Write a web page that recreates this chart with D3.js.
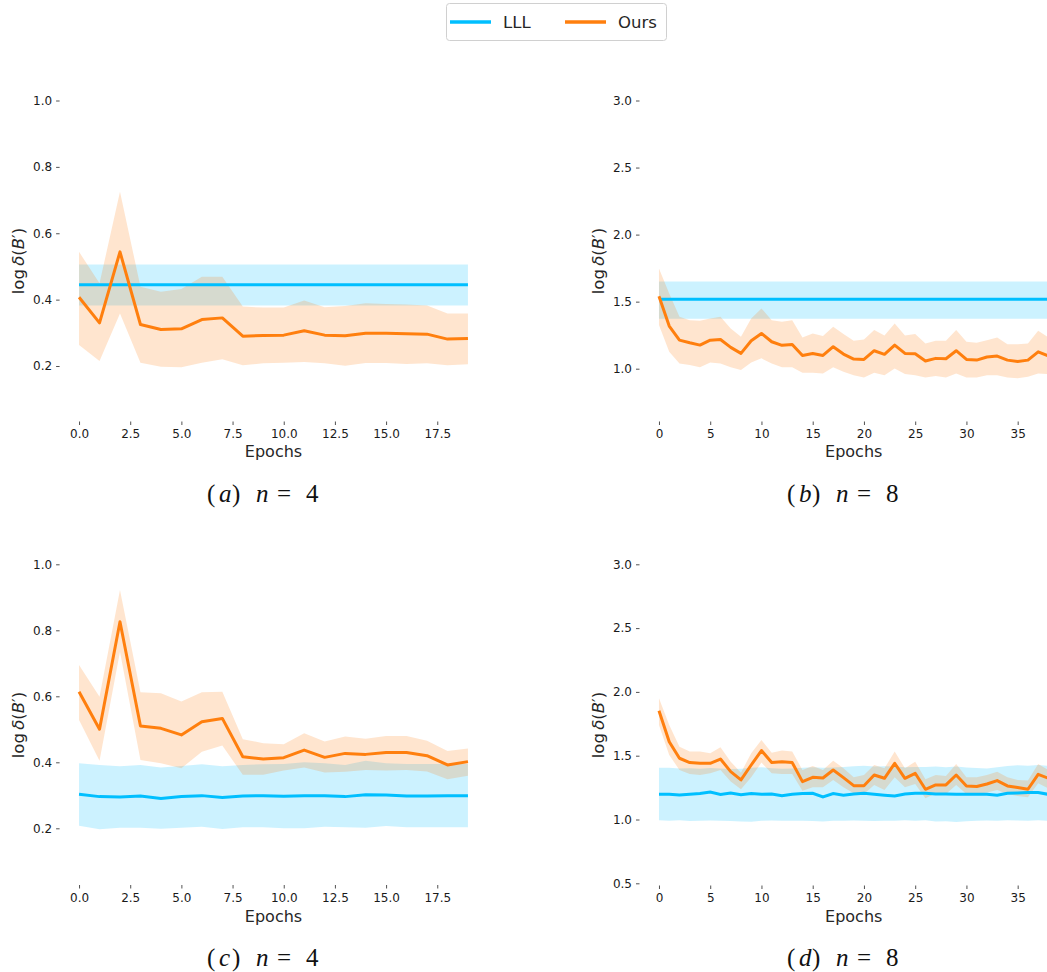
<!DOCTYPE html>
<html>
<head>
<meta charset="utf-8">
<script src="https://cdn.jsdelivr.net/npm/d3@7"></script>
<style>
  body { margin: 0; background: #fff; }
  svg { display: block; }
</style>
</head>
<body>
<svg id="fig" width="1047" height="972"></svg>
<script>
// ---- data (index = epoch) ----
const lllMeanA = [0.445,0.445,0.445,0.445,0.445,0.445,0.445,0.445,0.445,0.445,0.445,0.445,0.445,0.445,0.445,0.445,0.445,0.445,0.445,0.445];
const lllLowA  = [0.382,0.382,0.382,0.382,0.382,0.382,0.382,0.382,0.382,0.382,0.382,0.382,0.382,0.382,0.382,0.382,0.382,0.382,0.382,0.382];
const lllHighA = [0.506,0.506,0.506,0.506,0.506,0.506,0.506,0.506,0.506,0.506,0.506,0.506,0.506,0.506,0.506,0.506,0.506,0.506,0.506,0.506];
const oursMeanA = [0.407,0.330,0.544,0.325,0.310,0.312,0.340,0.345,0.290,0.292,0.293,0.306,0.293,0.291,0.299,0.299,0.297,0.296,0.281,0.283];
const oursLowA  = [0.263,0.215,0.358,0.210,0.198,0.196,0.210,0.220,0.202,0.208,0.210,0.212,0.208,0.201,0.209,0.209,0.206,0.208,0.202,0.205];
const oursHighA = [0.544,0.449,0.725,0.439,0.424,0.432,0.469,0.469,0.379,0.376,0.376,0.397,0.377,0.381,0.389,0.387,0.385,0.382,0.358,0.358];

const lllMeanB = [1.517,1.517,1.517,1.517,1.517,1.517,1.517,1.517,1.517,1.517,1.517,1.517,1.517,1.517,1.517,1.517,1.517,1.517,1.517,1.517,1.517,1.517,1.517,1.517,1.517,1.517,1.517,1.517,1.517,1.517,1.517,1.517,1.517,1.517,1.517,1.517,1.517,1.517,1.517];
const lllLowB  = [1.373,1.373,1.373,1.373,1.373,1.373,1.373,1.373,1.373,1.373,1.373,1.373,1.373,1.373,1.373,1.373,1.373,1.373,1.373,1.373,1.373,1.373,1.373,1.373,1.373,1.373,1.373,1.373,1.373,1.373,1.373,1.373,1.373,1.373,1.373,1.373,1.373,1.373,1.373];
const lllHighB = [1.651,1.651,1.651,1.651,1.651,1.651,1.651,1.651,1.651,1.651,1.651,1.651,1.651,1.651,1.651,1.651,1.651,1.651,1.651,1.651,1.651,1.651,1.651,1.651,1.651,1.651,1.651,1.651,1.651,1.651,1.651,1.651,1.651,1.651,1.651,1.651,1.651,1.651,1.651];
const oursMeanB = [1.541,1.318,1.213,1.193,1.176,1.213,1.218,1.159,1.114,1.208,1.263,1.201,1.174,1.181,1.099,1.114,1.099,1.164,1.109,1.072,1.069,1.134,1.107,1.176,1.114,1.111,1.057,1.077,1.074,1.134,1.069,1.064,1.087,1.094,1.064,1.054,1.064,1.126,1.094];
const oursLowB  = [1.325,1.126,1.039,1.027,1.010,1.047,1.039,1.010,0.990,1.047,1.077,1.039,1.010,1.010,0.970,0.970,0.965,1.010,0.977,0.952,0.935,0.970,0.952,1.002,0.960,0.952,0.935,0.945,0.935,0.965,0.935,0.935,0.952,0.952,0.935,0.928,0.940,0.965,0.960];
const oursHighB = [1.747,1.561,1.387,1.362,1.357,1.375,1.387,1.300,1.238,1.375,1.449,1.362,1.350,1.362,1.233,1.263,1.243,1.313,1.258,1.208,1.218,1.288,1.248,1.337,1.248,1.258,1.188,1.208,1.208,1.288,1.201,1.193,1.213,1.233,1.183,1.183,1.188,1.283,1.233];

const lllMeanC = [0.303,0.296,0.295,0.298,0.290,0.296,0.299,0.293,0.298,0.299,0.297,0.299,0.299,0.296,0.302,0.301,0.298,0.298,0.299,0.299];
const lllLowC  = [0.208,0.197,0.202,0.202,0.199,0.202,0.205,0.198,0.203,0.203,0.200,0.200,0.205,0.203,0.202,0.207,0.203,0.203,0.203,0.203];
const lllHighC = [0.397,0.392,0.388,0.392,0.384,0.389,0.394,0.388,0.392,0.394,0.395,0.400,0.397,0.392,0.405,0.397,0.395,0.395,0.395,0.395];
const oursMeanC = [0.614,0.500,0.826,0.510,0.503,0.483,0.523,0.533,0.417,0.410,0.414,0.437,0.415,0.427,0.424,0.430,0.430,0.420,0.392,0.402];
const oursLowC  = [0.528,0.405,0.735,0.407,0.397,0.382,0.432,0.451,0.362,0.362,0.375,0.384,0.369,0.371,0.377,0.375,0.377,0.372,0.349,0.359];
const oursHighC = [0.695,0.599,0.922,0.612,0.609,0.584,0.612,0.614,0.470,0.458,0.455,0.488,0.463,0.478,0.471,0.480,0.480,0.465,0.434,0.442];

const lllMeanD = [1.197,1.197,1.192,1.197,1.203,1.216,1.197,1.208,1.195,1.203,1.197,1.200,1.187,1.197,1.203,1.205,1.177,1.203,1.190,1.200,1.205,1.197,1.190,1.184,1.200,1.205,1.205,1.200,1.200,1.197,1.197,1.197,1.197,1.190,1.205,1.208,1.211,1.211,1.197];
const lllLowD  = [0.995,0.990,0.995,0.988,0.990,0.993,0.990,0.988,0.985,0.983,0.990,0.993,0.990,0.990,0.990,0.988,0.985,0.990,0.990,0.992,0.990,0.988,0.990,0.990,0.994,0.990,0.995,0.985,0.986,0.980,0.987,0.990,0.993,0.990,0.995,0.993,0.990,0.995,0.990];
const lllHighD = [1.405,1.405,1.400,1.402,1.398,1.404,1.400,1.396,1.398,1.405,1.410,1.402,1.398,1.400,1.405,1.410,1.405,1.407,1.412,1.418,1.422,1.415,1.418,1.415,1.410,1.412,1.412,1.415,1.410,1.415,1.408,1.404,1.400,1.410,1.420,1.425,1.422,1.428,1.420];
const oursMeanD = [1.853,1.610,1.480,1.446,1.440,1.440,1.474,1.375,1.310,1.427,1.540,1.446,1.453,1.446,1.297,1.331,1.325,1.388,1.328,1.265,1.265,1.349,1.323,1.440,1.323,1.362,1.237,1.271,1.271,1.349,1.263,1.258,1.278,1.305,1.263,1.250,1.237,1.354,1.323];
const oursLowD  = [1.740,1.506,1.388,1.357,1.349,1.362,1.388,1.297,1.237,1.331,1.446,1.362,1.357,1.357,1.226,1.252,1.252,1.310,1.252,1.205,1.200,1.271,1.231,1.331,1.252,1.278,1.166,1.205,1.200,1.271,1.200,1.200,1.211,1.231,1.200,1.184,1.174,1.284,1.244];
const oursHighD = [1.950,1.741,1.571,1.532,1.532,1.519,1.566,1.453,1.367,1.519,1.623,1.524,1.540,1.532,1.388,1.419,1.388,1.461,1.401,1.331,1.349,1.427,1.401,1.532,1.401,1.453,1.315,1.349,1.341,1.435,1.331,1.331,1.349,1.375,1.331,1.310,1.305,1.435,1.388];

const xTicks20 = [0, 2.5, 5, 7.5, 10, 12.5, 15, 17.5];
const xTicks39 = [0, 5, 10, 15, 20, 25, 30, 35];
const yTicksSmall = [0.2, 0.4, 0.6, 0.8, 1.0];
const yTicksB = [1.0, 1.5, 2.0, 2.5, 3.0];
const yTicksD = [0.5, 1.0, 1.5, 2.0, 2.5, 3.0];

const seriesNames = ["LLL", "Ours"];
const colors = {LLL: "#00bfff", Ours: "#ff7f0e"};

const SANS = "DejaVu Sans";
const SERIF = "Liberation Serif";
const INK = "#262626";

// ---- layout ----
const svg = d3.select("#fig");

const panels = [
  {lll: [lllMeanA, lllLowA, lllHighA], ours: [oursMeanA, oursLowA, oursHighA],
   xDom: [-0.95, 19.95], xPx: [59.6, 487.4], xTicks: xTicks20, xFmt: d3.format(".1f"),
   yDom: [0.2, 1.0], yPx: [366, 100.5], yTicks: yTicksSmall, axisY: 421.5,
   ylab: [24, 261], epochsY: 456.5, capX: 207, capY: 502, cap: ["a", "4"]},
  {lll: [lllMeanB, lllLowB, lllHighB], ours: [oursMeanB, oursLowB, oursHighB],
   xDom: [-1.9, 39.9], xPx: [639.5, 1067.9], xTicks: xTicks39, xFmt: d3.format("d"),
   yDom: [1.0, 3.0], yPx: [368.7, 100.5], yTicks: yTicksB, axisY: 421.5,
   ylab: [604, 261], epochsY: 456.5, capX: 787, capY: 502, cap: ["b", "8"]},
  {lll: [lllMeanC, lllLowC, lllHighC], ours: [oursMeanC, oursLowC, oursHighC],
   xDom: [-0.95, 19.95], xPx: [59.6, 487.4], xTicks: xTicks20, xFmt: d3.format(".1f"),
   yDom: [0.2, 1.0], yPx: [828.3, 564.3], yTicks: yTicksSmall, axisY: 885,
   ylab: [24, 725], epochsY: 921.5, capX: 207, capY: 966, cap: ["c", "4"]},
  {lll: [lllMeanD, lllLowD, lllHighD], ours: [oursMeanD, oursLowD, oursHighD],
   xDom: [-1.9, 39.9], xPx: [639.5, 1067.9], xTicks: xTicks39, xFmt: d3.format("d"),
   yDom: [0.5, 3.0], yPx: [883.3, 564.3], yTicks: yTicksD, axisY: 885.5,
   ylab: [604, 725], epochsY: 921.5, capX: 787, capY: 966, cap: ["d", "8"]}
];

panels.forEach(p => {
  const x = d3.scaleLinear().domain(p.xDom).range(p.xPx);
  const y = d3.scaleLinear().domain(p.yDom).range(p.yPx);
  const g = svg.append("g");

  const area = (lo, hi) => d3.area()
      .x((d, i) => x(i))
      .y0((d, i) => y(lo[i]))
      .y1((d, i) => y(hi[i]))(lo);
  const line = (m) => d3.line().x((d, i) => x(i)).y(d => y(d))(m);

  // bands first, then lines
  g.append("path").attr("d", area(p.lll[1], p.lll[2]))
      .attr("fill", colors.LLL).attr("fill-opacity", 0.2);
  g.append("path").attr("d", area(p.ours[1], p.ours[2]))
      .attr("fill", colors.Ours).attr("fill-opacity", 0.2);
  g.append("path").attr("d", line(p.lll[0]))
      .attr("fill", "none").attr("stroke", colors.LLL).attr("stroke-width", 3);
  g.append("path").attr("d", line(p.ours[0]))
      .attr("fill", "none").attr("stroke", colors.Ours).attr("stroke-width", 3)
      .attr("stroke-linejoin", "round");

  // axes (no spines, only ticks)
  const ya = g.append("g")
      .attr("transform", "translate(" + p.xPx[0] + ",0)")
      .call(d3.axisLeft(y).tickValues(p.yTicks).tickFormat(d3.format(".1f"))
          .tickSize(3.5).tickPadding(4));
  const xa = g.append("g")
      .attr("transform", "translate(0," + p.axisY + ")")
      .call(d3.axisBottom(x).tickValues(p.xTicks).tickFormat(p.xFmt)
          .tickSize(3.5).tickPadding(4.5));
  [ya, xa].forEach(a => {
    a.attr("font-size", null).attr("font-family", null);
    a.select(".domain").remove();
    a.selectAll(".tick line").attr("stroke", INK).attr("stroke-width", 0.8);
    a.selectAll(".tick text")
        .style("font-size", "12px").style("font-family", SANS)
        .attr("fill", "#1a1a1a");
  });

  // axis titles
  g.append("text")
      .attr("x", (p.xPx[0] + p.xPx[1]) / 2).attr("y", p.epochsY)
      .attr("text-anchor", "middle")
      .style("font-size", "16px").style("font-family", SANS).attr("fill", INK)
      .text("Epochs");
  const yl = g.append("text")
      .attr("transform", "translate(" + p.ylab[0] + "," + p.ylab[1] + ") rotate(-90)")
      .attr("text-anchor", "middle")
      .style("font-size", "16.5px").style("font-family", SANS).attr("fill", INK);
  yl.append("tspan").text("log\u2009");
  yl.append("tspan").attr("font-style", "italic").text("δ");
  yl.append("tspan").text("(");
  yl.append("tspan").attr("font-style", "italic").text("B");
  yl.append("tspan").text("′)");

  // caption "(a) n = 4"
  const cap = g.append("text")
      .attr("y", p.capY)
      .style("font-size", "25px").style("font-family", SERIF).attr("fill", "#111");
  const pieces = [["(", 0, false], [p.cap[0], 12, true], [")", 25, false],
                  ["n", 49, true], ["=", 70, false], [p.cap[1], 99, false]];
  pieces.forEach(([t, dx, it]) => {
    cap.append("tspan").attr("x", p.capX + dx)
        .style("font-style", it ? "italic" : "normal")
        .text(t);
  });
});

// ---- legend ----
const leg = svg.append("g");
leg.append("rect").attr("x", 446.5).attr("y", 3.5).attr("width", 220).attr("height", 37)
    .attr("rx", 3).attr("fill", "#fff").attr("stroke", "#d0d0d0");
seriesNames.forEach((name, i) => {
  const lx = 450 + i * 115;
  leg.append("line").attr("x1", lx).attr("x2", lx + 41).attr("y1", 22).attr("y2", 22)
      .attr("stroke", colors[name]).attr("stroke-width", 3.5);
  leg.append("text").attr("x", lx + 53).attr("y", 28)
      .style("font-size", "16.5px").style("font-family", SANS).attr("fill", INK)
      .text(name);
});
</script>
</body>
</html>
